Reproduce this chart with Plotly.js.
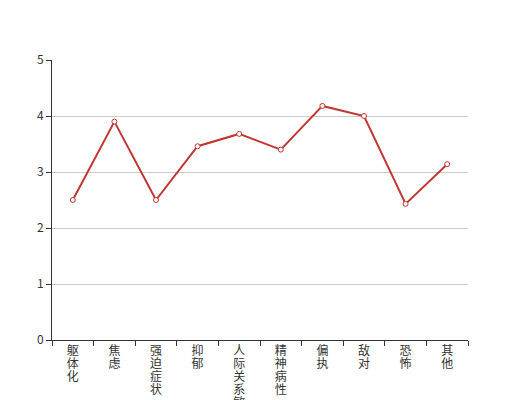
<!DOCTYPE html>
<html>
<head>
<meta charset="utf-8">
<script src="https://cdn.plot.ly/plotly-3.0.1.min.js"></script>
<style>
html,body{margin:0;padding:0;background:#fff;}
#chart{width:520px;height:400px;}
</style>
</head>
<body>
<div id="chart"></div>
<script>
const categories = ["躯体化", "焦虑", "强迫症状", "抑郁", "人际关系敏感", "精神病性", "偏执", "敌对", "恐怖", "其他"];
const values = [2.5, 3.9, 2.5, 3.46, 3.68, 3.4, 4.18, 4.0, 2.43, 3.14];
const yTicks = [0, 1, 2, 3, 4, 5];

const tickText = categories.map(c => c.split("").join("<br>"));

const trace = {
  type: "scatter",
  mode: "lines+markers",
  x: categories,
  y: values,
  line: {color: "#c23531", width: 2},
  marker: {symbol: "circle", size: 5, color: "#ffffff", line: {color: "#c23531", width: 1}},
  hoverinfo: "x+y"
};

const layout = {
  width: 520,
  height: 400,
  margin: {l: 52, r: 52, t: 60, b: 60},
  paper_bgcolor: "#ffffff",
  plot_bgcolor: "#ffffff",
  showlegend: false,
  font: {family: "Noto Sans CJK SC, sans-serif", size: 12, color: "#333333"},
  xaxis: {
    type: "category",
    tickmode: "array",
    tickvals: categories,
    ticktext: tickText,
    tickson: "boundaries",
    ticks: "outside",
    ticklen: 5,
    tickcolor: "#333333",
    showline: true,
    linecolor: "#333333",
    linewidth: 1,
    showgrid: false,
    zeroline: false,
    range: [-0.5, categories.length - 0.5],
    tickfont: {size: 12, color: "#333333"},
    fixedrange: true
  },
  yaxis: {
    range: [0, 5],
    tickmode: "array",
    tickvals: yTicks,
    ticks: "outside",
    ticklen: 5,
    tickcolor: "#333333",
    showline: true,
    linecolor: "#333333",
    linewidth: 1,
    showgrid: true,
    gridcolor: "#cccccc",
    gridwidth: 1,
    zeroline: false,
    tickfont: {size: 12, color: "#333333"},
    fixedrange: true
  }
};

Plotly.newPlot("chart", [trace], layout, {displayModeBar: false, staticPlot: true}).then(function (gd) {
  // tighten the stacked-character line spacing of the category labels
  const k = 13 / 15.6;
  gd.querySelectorAll(".xtick text tspan.line").forEach(function (t) {
    const dy = t.getAttribute("dy");
    if (dy && /em$/.test(dy)) {
      t.setAttribute("dy", (parseFloat(dy) * k).toFixed(3) + "em");
    }
  });
});
</script>
</body>
</html>
